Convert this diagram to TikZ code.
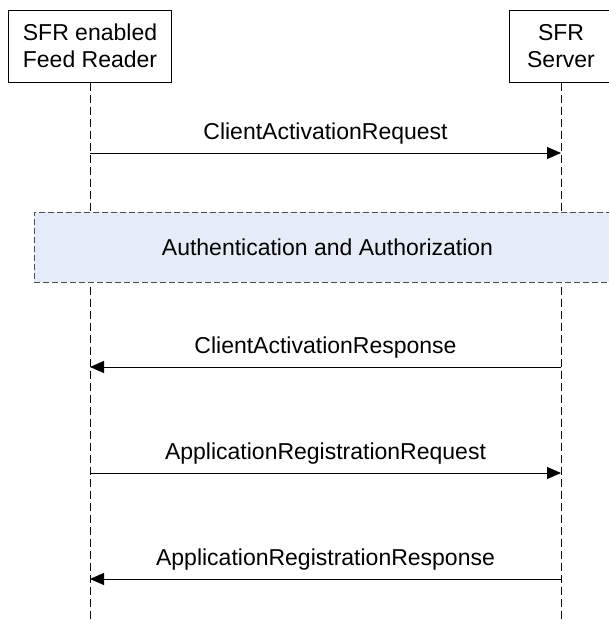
\documentclass[tikz,border=0pt]{standalone}
\usepackage{fontspec}
\setmainfont{Liberation Sans}
\usetikzlibrary{arrows.meta,positioning}

\begin{document}
\begin{tikzpicture}[x=1pt,y=-1pt,font=\fontsize{23}{27}\selectfont,
  actor/.style={draw, line width=1pt, minimum height=72pt, inner sep=0pt, align=center},
  lifeline/.style={line width=0.8pt, dash pattern=on 8pt off 4pt},
  band/.style={draw=black!70, fill={rgb,255:red,230;green,236;blue,247}, line width=0.8pt, dash pattern=on 6pt off 3pt, minimum width=587pt, minimum height=70pt},
  msg/.style={line width=1pt, -{Triangle[length=14pt,width=12pt]}}]
\useasboundingbox (0,0) rectangle (608,621);
\node[actor, minimum width=163pt] (reader) at (90,46) {SFR enabled\\Feed Reader};
\node[actor, minimum width=104pt] (server) at (561,46) {SFR\\Server};
\coordinate (reader end) at (90,621);
\coordinate (server end) at (561,621);
\draw[lifeline] (reader) -- (reader end);
\draw[lifeline] (server) -- (server end);
\node[band] (auth) at (327.5,247) {Authentication and Authorization};
\foreach \y/\n in {153/1,367/2,473/3,579/4} {
  \coordinate (r\n) at (90,\y);
  \coordinate (s\n) at (561,\y);
}
\draw[msg] (r1) to node[above=5pt] {ClientActivationRequest} (s1);
\draw[msg] (s2) to node[above=5pt] {ClientActivationResponse} (r2);
\draw[msg] (r3) to node[above=5pt] {ApplicationRegistrationRequest} (s3);
\draw[msg] (s4) to node[above=5pt] {ApplicationRegistrationResponse} (r4);
\end{tikzpicture}
\end{document}
